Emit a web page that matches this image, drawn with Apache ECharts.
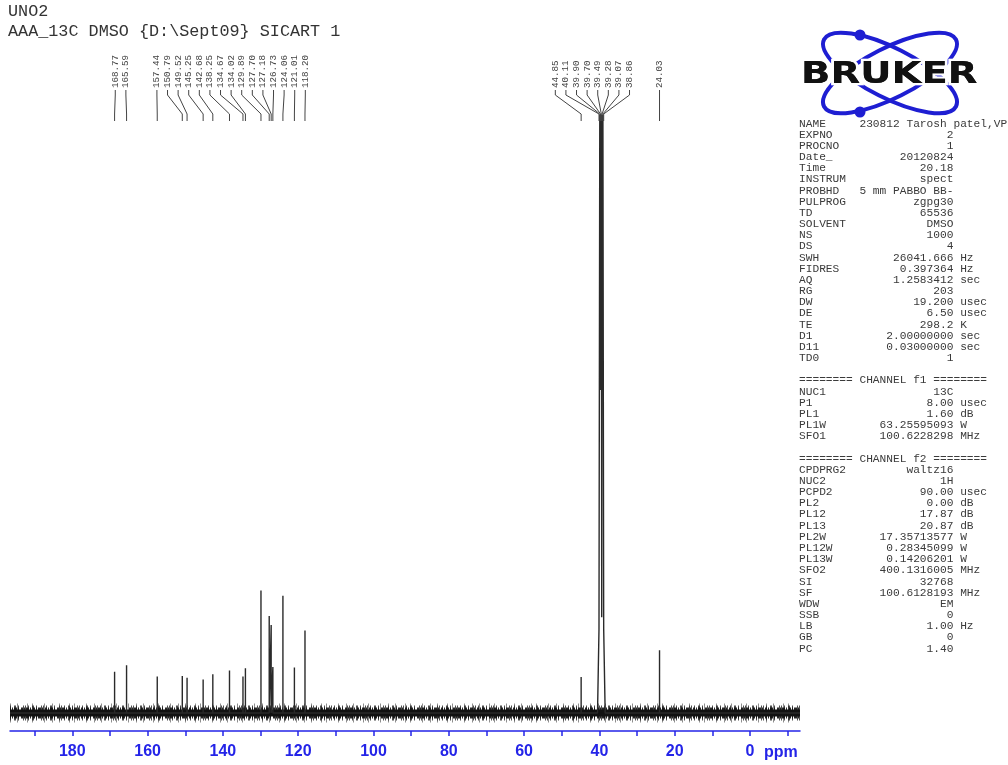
<!DOCTYPE html>
<html><head><meta charset="utf-8">
<script src="https://cdn.jsdelivr.net/npm/echarts@6/dist/echarts.min.js"></script>
<style>html,body{margin:0;padding:0;background:#fff}#c{width:1008px;height:765px}</style>
</head><body><div id="c"></div>
<script>
// ---------------- data ----------------
const titleLines = ['UNO2', 'AAA_13C DMSO {D:\\Sept09} SICART 1'];
// picked peaks (ppm) and their drawn heights (% of plot height)
const peakPpm = [168.77,165.59,157.44,150.79,149.52,145.25,142.68,138.25,134.67,134.02,129.89,127.70,127.18,126.73,124.06,121.01,118.20,44.85,40.11,39.90,39.70,39.49,39.28,39.07,38.86,24.03];
const peakHeight = [6.9,8.0,6.1,6.2,5.9,5.6,6.5,7.1,6.1,7.5,20.5,16.2,14.7,7.7,19.6,7.6,13.8,6.0,14,100,100,100,100,100,14,10.5];
// DMSO-d6 septet trace (ppm, height), incl. its feet and valleys
const dmsoTracePpm    = [40.50, 40.11, 39.90, 39.80, 39.70, 39.595, 39.49, 39.385, 39.28, 39.175, 39.07, 38.86, 38.47];
const dmsoTraceHeight = [0,     14,    100,   54,    100,   54,     100,   16,     100,   54,     100,   14,    0];
const ppmMin = -13.28, ppmMax = 196.55;
const tickValues = [-10,0,10,20,30,40,50,60,70,80,90,100,110,120,130,140,150,160,170,180,190];
const tickLabels = [0,20,40,60,80,100,120,140,160,180];
const axisUnit = 'ppm';

const acqNames  = ['NAME','EXPNO','PROCNO','Date_','Time','INSTRUM','PROBHD','PULPROG','TD','SOLVENT','NS','DS','SWH','FIDRES','AQ','RG','DW','DE','TE','D1','D11','TD0'];
const acqValues = ['230812 Tarosh patel,VP','2','1','20120824','20.18','spect','5 mm PABBO BB-','zgpg30','65536','DMSO','1000','4','26041.666','0.397364','1.2583412','203','19.200','6.50','298.2','2.00000000','0.03000000','1'];
const acqUnits  = ['','','','','','','','','','','','','Hz','Hz','sec','','usec','usec','K','sec','sec',''];
const f1Names  = ['NUC1','P1','PL1','PL1W','SFO1'];
const f1Values = ['13C','8.00','1.60','63.25595093','100.6228298'];
const f1Units  = ['','usec','dB','W','MHz'];
const f2Names  = ['CPDPRG2','NUC2','PCPD2','PL2','PL12','PL13','PL2W','PL12W','PL13W','SFO2','SI','SF','WDW','SSB','LB','GB','PC'];
const f2Values = ['waltz16','1H','90.00','0.00','17.87','20.87','17.35713577','0.28345099','0.14206201','400.1316005','32768','100.6128193','EM','0','1.00','0','1.40'];
const f2Units  = ['','','usec','dB','dB','dB','W','W','W','MHz','','MHz','','','Hz','',''];

// ---------------- helpers ----------------
function paramLine(n, v, u) {
  let s;
  if (n.length + 1 + v.length > 23) s = n.padEnd(9, ' ') + v;
  else s = n + ' '.repeat(23 - n.length - v.length) + v;
  if (u) s += ' ' + u;
  return s;
}
const panelLines = [];
acqNames.forEach((n, i) => panelLines.push(paramLine(n, acqValues[i], acqUnits[i])));
panelLines.push('');
panelLines.push('======== CHANNEL f1 ========');
f1Names.forEach((n, i) => panelLines.push(paramLine(n, f1Values[i], f1Units[i])));
panelLines.push('');
panelLines.push('======== CHANNEL f2 ========');
f2Names.forEach((n, i) => panelLines.push(paramLine(n, f2Values[i], f2Units[i])));

// spectrum trace: sticks for isolated peaks + the DMSO multiplet trace
const dmsoHi = dmsoTracePpm[0], dmsoLo = dmsoTracePpm[dmsoTracePpm.length - 1];
const pts = [];
peakPpm.forEach((p, i) => {
  if (p < dmsoHi && p > dmsoLo) return;
  pts.push([p, 0], [p, peakHeight[i]], [p, 0]);
});
dmsoTracePpm.forEach((p, i) => pts.push([p, dmsoTraceHeight[i]]));
// stable sort by ppm descending (keep order within equal ppm)
const specData = [[ppmMax, 0]].concat(
  pts.map((d, k) => [d, k]).sort((a, b) => (b[0][0] - a[0][0]) || (a[1] - b[1])).map(e => e[0]),
  [[ppmMin, 0]]);
const baseData = [[ppmMax, 0], [ppmMin, 0]];

// label layout (clusters spread evenly, centered on the cluster's extent)
const LABEL_GAP = 10.6, CLUSTER_DIST = 28;
function layoutLabels(api) {
  const px = peakPpm.map(p => api.coord([p, 0])[0]);
  const idx = px.map((x, i) => i).sort((a, b) => px[a] - px[b]);
  const res = new Array(px.length);
  let cluster = [idx[0]];
  const flush = () => {
    const lo = px[cluster[0]], hi = px[cluster[cluster.length - 1]];
    const mid = (lo + hi) / 2, start = mid - (cluster.length - 1) * LABEL_GAP / 2;
    cluster.forEach((k, j) => { res[k] = start + j * LABEL_GAP; });
  };
  for (let j = 1; j < idx.length; j++) {
    if (px[idx[j]] - px[idx[j - 1]] < CLUSTER_DIST) cluster.push(idx[j]);
    else { flush(); cluster = [idx[j]]; }
  }
  flush();
  return res;
}

const chart = echarts.init(document.getElementById('c'), null, {renderer: 'canvas'});
const blue = '#2424e8';
function noise(width, dash, color, opacity, offset, z) {
  return {type: 'line', data: baseData, symbol: 'none', silent: true, z: z,
          lineStyle: {color: color, width: width, opacity: opacity, type: dash, dashOffset: offset, cap: 'butt'}};
}
const option = {
  animation: false,
  backgroundColor: '#fff',
  title: {
    text: titleLines.join('\n'), left: 8, top: 2, padding: 0,
    textStyle: {fontFamily: 'Liberation Mono', fontSize: 16.8, fontWeight: 'normal', color: '#333', lineHeight: 20}
  },
  grid: {left: 10, right: 208, top: 115, bottom: 34},
  xAxis: {
    type: 'value', inverse: true, min: ppmMin, max: ppmMax,
    name: axisUnit, nameLocation: 'start', nameGap: -36,
    nameTextStyle: {color: blue, fontFamily: 'Liberation Sans', fontWeight: 'bold', fontSize: 16, align: 'left', verticalAlign: 'top', padding: [14, 0, 0, 0]},
    axisLine: {onZero: false, lineStyle: {color: blue, width: 1.5}},
    axisTick: {show: true, customValues: tickValues, length: 5, lineStyle: {color: blue, width: 1.5}},
    axisLabel: {customValues: tickLabels, color: blue, fontFamily: 'Liberation Sans', fontWeight: 'bold', fontSize: 16, margin: 13},
    splitLine: {show: false}
  },
  yAxis: {type: 'value', min: -3.01, max: 100, show: false},
  graphic: [
    {type: 'text', left: 799, top: 118, style: {text: panelLines.join('\n'), fontFamily: 'Liberation Mono', fontSize: 11.2, lineHeight: 11.17, fill: '#3a3a3a'}},
    // Bruker logo
    {type: 'ellipse', x: 890, y: 73, rotation: -0.47, shape: {cx: 0, cy: 0, rx: 74, ry: 25}, style: {fill: null, stroke: '#1e1ed2', lineWidth: 4}},
    {type: 'ellipse', x: 890, y: 73, rotation: 0.47, shape: {cx: 0, cy: 0, rx: 74, ry: 25}, style: {fill: null, stroke: '#1e1ed2', lineWidth: 4}},
    {type: 'circle', shape: {cx: 860, cy: 35, r: 5.5}, style: {fill: '#1e1ed2'}},
    {type: 'circle', shape: {cx: 860, cy: 112, r: 5.5}, style: {fill: '#1e1ed2'}},
    {type: 'text', x: 801, y: 75, scaleX: 1.17, scaleY: 0.92, style: {text: 'BRUKER', fontFamily: 'DejaVu Sans', fontWeight: 'bold', fontSize: 33, fill: '#111', stroke: '#fff', lineWidth: 5, verticalAlign: 'middle', align: 'left'}},
    {type: 'text', x: 801, y: 75, scaleX: 1.17, scaleY: 0.92, style: {text: 'BRUKER', fontFamily: 'DejaVu Sans', fontWeight: 'bold', fontSize: 33, fill: '#111', verticalAlign: 'middle', align: 'left'}}
  ],
  series: [
    noise(19, [1, 6, 1, 9, 1, 4, 1, 11, 1, 7], '#333', 0.55, 0, 1),
    noise(15, [1, 2, 1, 3, 2, 2, 1, 4, 1, 1], '#222', 0.8, 3, 1),
    noise(11, [2, 1, 1, 1, 3, 1, 1, 2], '#111', 0.9, 1, 2),
    noise(7, 'solid', '#111', 1, 0, 2),
    {type: 'line', data: specData, symbol: 'none', silent: true, z: 3,
     lineStyle: {color: '#2a2a2a', width: 1.4}},
    {type: 'custom', silent: true, z: 4,
     data: peakPpm.map((p, i) => [p, peakHeight[i]]),
     renderItem: function (params, api) {
       const i = params.dataIndex;
       const lx = layoutLabels(api)[i];
       const px = api.coord([peakPpm[i], 0])[0];
       return {type: 'group', children: [
         {type: 'text', x: lx, y: 88, rotation: Math.PI / 2,
          style: {text: peakPpm[i].toFixed(2), fontFamily: 'Liberation Mono', fontSize: 9.2, fill: '#444', align: 'left', verticalAlign: 'middle'}},
         {type: 'polyline', shape: {points: [[lx, 90], [lx, 95], [px, 114], [px, 121]]},
          style: {stroke: '#444', lineWidth: 1, fill: null}}
       ]};
     }}
  ]
};
chart.setOption(option);
</script>
</body></html>
